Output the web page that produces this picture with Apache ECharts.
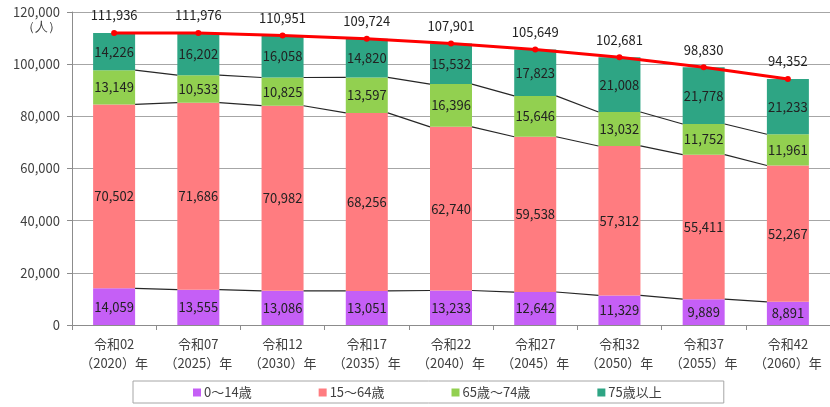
<!DOCTYPE html>
<html>
<head>
<meta charset="utf-8">
<script src="https://cdn.jsdelivr.net/npm/echarts@6/dist/echarts.min.js"></script>
<style>html,body{margin:0;padding:0;background:#fff}#c{width:830px;height:407px}</style>
</head>
<body>
<div id="c"></div>
<script>
const categories = ['令和02\n（2020）年','令和07\n（2025）年','令和12\n（2030）年','令和17\n（2035）年','令和22\n（2040）年','令和27\n（2045）年','令和32\n（2050）年','令和37\n（2055）年','令和42\n（2060）年'];
const age0_14 = [14059, 13555, 13086, 13051, 13233, 12642, 11329, 9889, 8891];
const age15_64 = [70502, 71686, 70982, 68256, 62740, 59538, 57312, 55411, 52267];
const age65_74 = [13149, 10533, 10825, 13597, 16396, 15646, 13032, 11752, 11961];
const age75plus = [14226, 16202, 16058, 14820, 15532, 17823, 21008, 21778, 21233];
const totals = [111936, 111976, 110951, 109724, 107901, 105649, 102681, 98830, 94352];
const seriesNames = ['0～14歳', '15～64歳', '65歳～74歳', '75歳以上'];
const yTicks = [0, 20000, 40000, 60000, 80000, 100000, 120000];

const FONT = '"Noto Sans CJK JP", "Noto Sans", sans-serif';
const BAR_W = 42;
const fmt = v => v.toLocaleString('en-US');

// cumulative boundaries for series lines
const cum1 = age0_14.map((v, i) => v);
const cum2 = age0_14.map((v, i) => v + age15_64[i]);
const cum3 = age0_14.map((v, i) => v + age15_64[i] + age65_74[i]);
const linkData = categories.slice(0, -1).map((c, i) => [i, cum1[i], cum1[i+1], cum2[i], cum2[i+1], cum3[i], cum3[i+1]]);

const chart = echarts.init(document.getElementById('c'));
const barLabel = {
  show: true, position: 'inside', color: '#222', fontSize: 13, fontFamily: FONT,
  formatter: p => fmt(p.value)
};
function bar(name, data, color) {
  return { name, type: 'bar', stack: 'total', data, barWidth: BAR_W,
    itemStyle: { color }, label: barLabel, z: 2 };
}
chart.setOption({
  animation: false,
  textStyle: { fontFamily: FONT },
  grid: { left: 72, top: 12, width: 766, height: 313, containLabel: false },
  xAxis: {
    type: 'category', data: categories,
    axisLine: { lineStyle: { color: '#8c8c8c', width: 1 } },
    axisTick: { show: true, alignWithLabel: false, lineStyle: { color: '#8c8c8c' }, length: 5 },
    axisLabel: { color: '#404040', fontSize: 13, lineHeight: 19, margin: 10, fontFamily: FONT, interval: 0 }
  },
  yAxis: {
    type: 'value', min: 0, max: 120000, interval: 20000,
    axisLine: { show: true, lineStyle: { color: '#8c8c8c' } },
    axisTick: { show: true, inside: false, length: 5, lineStyle: { color: '#8c8c8c' } },
    splitLine: { lineStyle: { color: '#a6a6a6', width: 1 } },
    axisLabel: { color: '#404040', fontSize: 13, margin: 12, fontFamily: FONT, formatter: v => fmt(v) }
  },
  legend: {
    data: seriesNames, left: 133, top: 381,
    padding: [5, 62, 4, 60], itemGap: 67, itemWidth: 8, itemHeight: 8, icon: 'rect',
    borderColor: '#a6a6a6', borderWidth: 1,
    textStyle: { fontSize: 13, color: '#404040', fontFamily: FONT, padding: [0, 0, 0, -2] }
  },
  graphic: [{ type: 'text', left: 22, top: 21, style: { text: '（人）', fontSize: 13, fill: '#404040', font: '13px ' + FONT } }],
  series: [
    bar(seriesNames[0], age0_14, '#C55FF6'),
    bar(seriesNames[1], age15_64, '#FF7C80'),
    bar(seriesNames[2], age65_74, '#92D050'),
    bar(seriesNames[3], age75plus, '#2EA584'),
    {
      type: 'custom', name: 'links', data: linkData, z: 3, silent: true,
      renderItem: (params, api) => {
        const i = api.value(0);
        const children = [];
        for (let k = 0; k < 3; k++) {
          const a = api.coord([i, api.value(1 + 2*k)]);
          const b = api.coord([i + 1, api.value(2 + 2*k)]);
          children.push({ type: 'line', shape: { x1: a[0] + BAR_W/2, y1: a[1], x2: b[0] - BAR_W/2, y2: b[1] },
            style: { stroke: '#262626', lineWidth: 1.2 } });
        }
        return { type: 'group', children };
      }
    },
    {
      type: 'line', name: '合計', data: totals, z: 5,
      symbol: 'circle', symbolSize: 6,
      lineStyle: { color: '#FF0000', width: 3 }, itemStyle: { color: '#FF0000' },
      label: { show: true, position: 'top', distance: 8, color: '#222', fontSize: 13, fontFamily: FONT, formatter: p => fmt(p.value) }
    }
  ]
});
</script>
</body>
</html>
